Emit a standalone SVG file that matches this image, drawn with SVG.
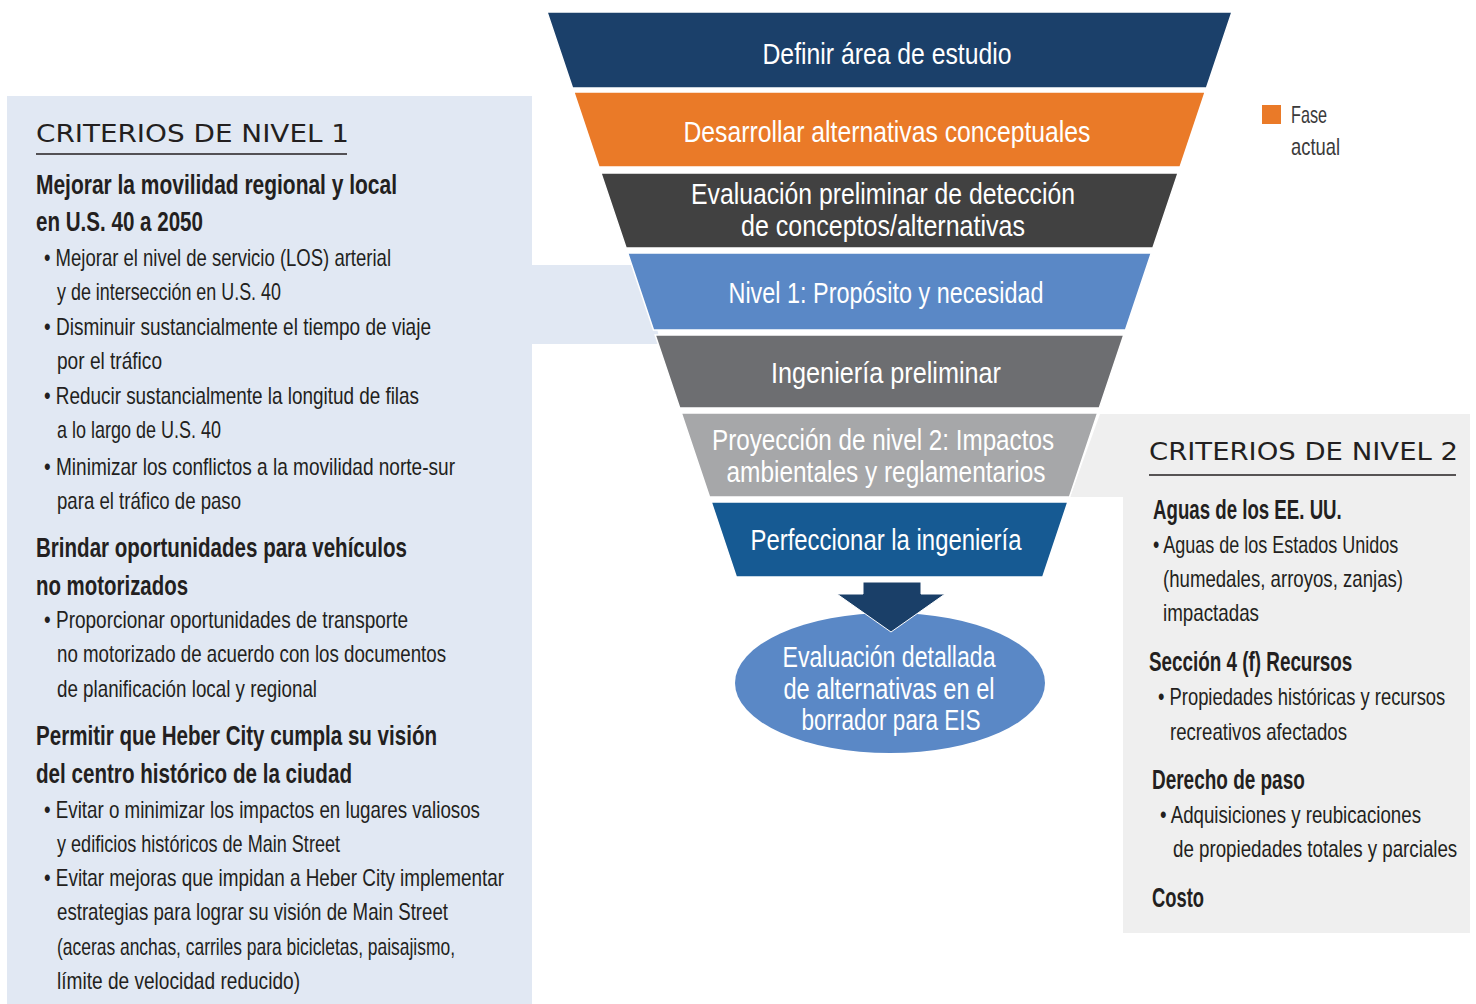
<svg xmlns="http://www.w3.org/2000/svg" width="1476" height="1004" viewBox="0 0 1476 1004">
<style>
.band{stroke:#fff;stroke-width:1.5}
.ft{font-family:"Liberation Sans",Arial,sans-serif;font-size:30px;fill:#fff;text-anchor:middle}
.ttl{font-family:"DejaVu Sans","Liberation Sans",Arial,sans-serif;font-size:25px;fill:#231f20}
.hd{font-family:"Liberation Sans",Arial,sans-serif;font-size:27px;font-weight:bold;fill:#231f20}
.bd{font-family:"Liberation Sans",Arial,sans-serif;font-size:24px;fill:#231f20}
.lg{font-family:"Liberation Sans",Arial,sans-serif;font-size:24px;fill:#3a3a3a}
.rule{stroke:#231f20;stroke-width:1.5}
</style>
<rect width="1476" height="1004" fill="#fff"/>
<g id="panel-nivel1-bg">
<rect x="7" y="96" width="525" height="908" fill="#e1e8f3"/>
<polygon points="530,265 640,265 661,344 530,344" fill="#e1e8f3"/>
</g>
<g id="panel-nivel2-bg">
<polygon points="1100,414 1470,414 1470,497 1070,497" fill="#efefef"/>
<rect x="1123" y="414" width="347" height="519" fill="#efefef"/>
</g>
<g id="funnel">
<g id="step1"><polygon class="band" points="547,12 1232,12 1206.5,88 572.5,88" fill="#1b406a"/>
<text class="ft" x="887" y="64" textLength="249" lengthAdjust="spacingAndGlyphs">Definir área de estudio</text></g>
<g id="step2"><polygon class="band" points="573.8,92 1205.2,92 1180.1,167 598.9,167" fill="#ea7a28"/>
<text class="ft" x="887" y="142" textLength="407" lengthAdjust="spacingAndGlyphs">Desarrollar alternativas conceptuales</text></g>
<g id="step3"><polygon class="band" points="600.9,173 1178.1,173 1152.9,248 626.1,248" fill="#414141"/>
<text class="ft" x="883" y="204" textLength="384" lengthAdjust="spacingAndGlyphs">Evaluación preliminar de detección</text>
<text class="ft" x="883" y="236" textLength="284" lengthAdjust="spacingAndGlyphs">de conceptos/alternativas</text></g>
<g id="step4"><polygon class="band" points="627.7,253 1151.3,253 1125.5,330 653.5,330" fill="#5a88c6"/>
<text class="ft" x="886" y="303" textLength="315" lengthAdjust="spacingAndGlyphs">Nivel 1: Propósito y necesidad</text></g>
<g id="step5"><polygon class="band" points="655.2,335 1123.8,335 1099.3,408 679.7,408" fill="#6d6e71"/>
<text class="ft" x="886" y="383" textLength="230" lengthAdjust="spacingAndGlyphs">Ingeniería preliminar</text></g>
<g id="step6"><polygon class="band" points="681.3,413 1097.7,413 1069.5,497 709.5,497" fill="#a6a7a9"/>
<text class="ft" x="883" y="450" textLength="342" lengthAdjust="spacingAndGlyphs">Proyección de nivel 2:  Impactos</text>
<text class="ft" x="886" y="482" textLength="319" lengthAdjust="spacingAndGlyphs">ambientales y reglamentarios</text></g>
<g id="step7"><polygon class="band" points="711.2,502 1067.9,502 1042.8,577 736.3,577" fill="#165a93"/>
<text class="ft" x="886" y="550" textLength="271" lengthAdjust="spacingAndGlyphs">Perfeccionar la ingeniería</text></g>
</g>
<g id="result">
<ellipse cx="890" cy="683" rx="155" ry="70" fill="#5a88c6"/>
<text class="ft" x="889" y="667" textLength="213" lengthAdjust="spacingAndGlyphs">Evaluación detallada</text>
<text class="ft" x="889" y="699" textLength="211" lengthAdjust="spacingAndGlyphs">de alternativas en el</text>
<text class="ft" x="891" y="730" textLength="179" lengthAdjust="spacingAndGlyphs">borrador para EIS</text>
</g>
<g id="connectors">
<polygon points="863,582 921,582 921,594 945,594 891,632 837,594 863,594" fill="#1a3f68" stroke="#fff" stroke-width="1"/>
</g>
<g id="legend">
<rect x="1262" y="105" width="19" height="19" fill="#ea7a28"/>
<text class="lg" x="1291" y="123" textLength="36" lengthAdjust="spacingAndGlyphs">Fase</text>
<text class="lg" x="1291" y="155" textLength="49" lengthAdjust="spacingAndGlyphs">actual</text>
</g>
<g id="panel-nivel1">
<text class="ttl" x="36" y="142" textLength="313" lengthAdjust="spacingAndGlyphs">CRITERIOS DE NIVEL 1</text>
<line class="rule" x1="36" y1="154" x2="347" y2="154"/>
<text class="hd" x="36" y="194" textLength="361" lengthAdjust="spacingAndGlyphs">Mejorar la movilidad regional y local</text>
<text class="hd" x="36" y="231" textLength="167" lengthAdjust="spacingAndGlyphs">en U.S. 40 a 2050</text>
<text class="bd" x="44" y="266" textLength="347" lengthAdjust="spacingAndGlyphs">• Mejorar el nivel de servicio (LOS) arterial</text>
<text class="bd" x="57" y="300" textLength="224" lengthAdjust="spacingAndGlyphs">y de intersección en U.S. 40</text>
<text class="bd" x="44" y="335" textLength="387" lengthAdjust="spacingAndGlyphs">• Disminuir sustancialmente el tiempo de viaje</text>
<text class="bd" x="57" y="369" textLength="105" lengthAdjust="spacingAndGlyphs">por el tráfico</text>
<text class="bd" x="44" y="404" textLength="375" lengthAdjust="spacingAndGlyphs">• Reducir sustancialmente la longitud de filas</text>
<text class="bd" x="57" y="438" textLength="164" lengthAdjust="spacingAndGlyphs">a lo largo de U.S. 40</text>
<text class="bd" x="44" y="475" textLength="411" lengthAdjust="spacingAndGlyphs">• Minimizar los conflictos a la movilidad norte-sur</text>
<text class="bd" x="57" y="509" textLength="184" lengthAdjust="spacingAndGlyphs">para el tráfico de paso</text>
<text class="hd" x="36" y="557" textLength="371" lengthAdjust="spacingAndGlyphs">Brindar oportunidades para vehículos</text>
<text class="hd" x="36" y="595" textLength="152" lengthAdjust="spacingAndGlyphs">no motorizados</text>
<text class="bd" x="44" y="628" textLength="364" lengthAdjust="spacingAndGlyphs">• Proporcionar oportunidades de transporte</text>
<text class="bd" x="57" y="662" textLength="389" lengthAdjust="spacingAndGlyphs">no motorizado de acuerdo con los documentos</text>
<text class="bd" x="57" y="697" textLength="260" lengthAdjust="spacingAndGlyphs">de planificación local y regional</text>
<text class="hd" x="36" y="745" textLength="401" lengthAdjust="spacingAndGlyphs">Permitir que Heber City cumpla su visión</text>
<text class="hd" x="36" y="783" textLength="316" lengthAdjust="spacingAndGlyphs">del centro histórico de la ciudad</text>
<text class="bd" x="44" y="818" textLength="436" lengthAdjust="spacingAndGlyphs">• Evitar o minimizar los impactos en lugares valiosos</text>
<text class="bd" x="57" y="852" textLength="283" lengthAdjust="spacingAndGlyphs">y edificios históricos de Main Street</text>
<text class="bd" x="44" y="886" textLength="460" lengthAdjust="spacingAndGlyphs">• Evitar mejoras que impidan a Heber City implementar</text>
<text class="bd" x="57" y="920" textLength="391" lengthAdjust="spacingAndGlyphs">estrategias para lograr su visión de Main Street</text>
<text class="bd" x="57" y="955" textLength="398" lengthAdjust="spacingAndGlyphs">(aceras anchas, carriles para bicicletas, paisajismo,</text>
<text class="bd" x="57" y="989" textLength="243" lengthAdjust="spacingAndGlyphs">límite de velocidad reducido)</text>
</g>
<g id="panel-nivel2">
<text class="ttl" x="1149" y="460" textLength="309" lengthAdjust="spacingAndGlyphs">CRITERIOS DE NIVEL 2</text>
<line class="rule" x1="1149" y1="475" x2="1456" y2="475"/>
<text class="hd" transform="translate(1153,519) scale(0.8,1)" x="0" y="0" textLength="236" lengthAdjust="spacingAndGlyphs">Aguas de los EE. UU.</text>
<text class="bd" transform="translate(1153,553) scale(0.75,1)" x="0" y="0" textLength="327" lengthAdjust="spacingAndGlyphs">• Aguas de los Estados Unidos</text>
<text class="bd" transform="translate(1163,587) scale(0.75,1)" x="0" y="0" textLength="320" lengthAdjust="spacingAndGlyphs">(humedales, arroyos, zanjas)</text>
<text class="bd" transform="translate(1163,621) scale(0.75,1)" x="0" y="0" textLength="128" lengthAdjust="spacingAndGlyphs">impactadas</text>
<text class="hd" transform="translate(1149,671) scale(0.8,1)" x="0" y="0" textLength="254" lengthAdjust="spacingAndGlyphs">Sección 4 (f) Recursos</text>
<text class="bd" transform="translate(1158,705) scale(0.75,1)" x="0" y="0" textLength="383" lengthAdjust="spacingAndGlyphs">• Propiedades históricas y recursos</text>
<text class="bd" transform="translate(1170,740) scale(0.75,1)" x="0" y="0" textLength="236" lengthAdjust="spacingAndGlyphs">recreativos afectados</text>
<text class="hd" transform="translate(1152,789) scale(0.8,1)" x="0" y="0" textLength="191" lengthAdjust="spacingAndGlyphs">Derecho de paso</text>
<text class="bd" transform="translate(1160,823) scale(0.75,1)" x="0" y="0" textLength="348" lengthAdjust="spacingAndGlyphs">• Adquisiciones y reubicaciones</text>
<text class="bd" transform="translate(1173,857) scale(0.75,1)" x="0" y="0" textLength="379" lengthAdjust="spacingAndGlyphs">de propiedades totales y parciales</text>
<text class="hd" transform="translate(1152,907) scale(0.8,1)" x="0" y="0" textLength="65" lengthAdjust="spacingAndGlyphs">Costo</text>
</g>
</svg>
